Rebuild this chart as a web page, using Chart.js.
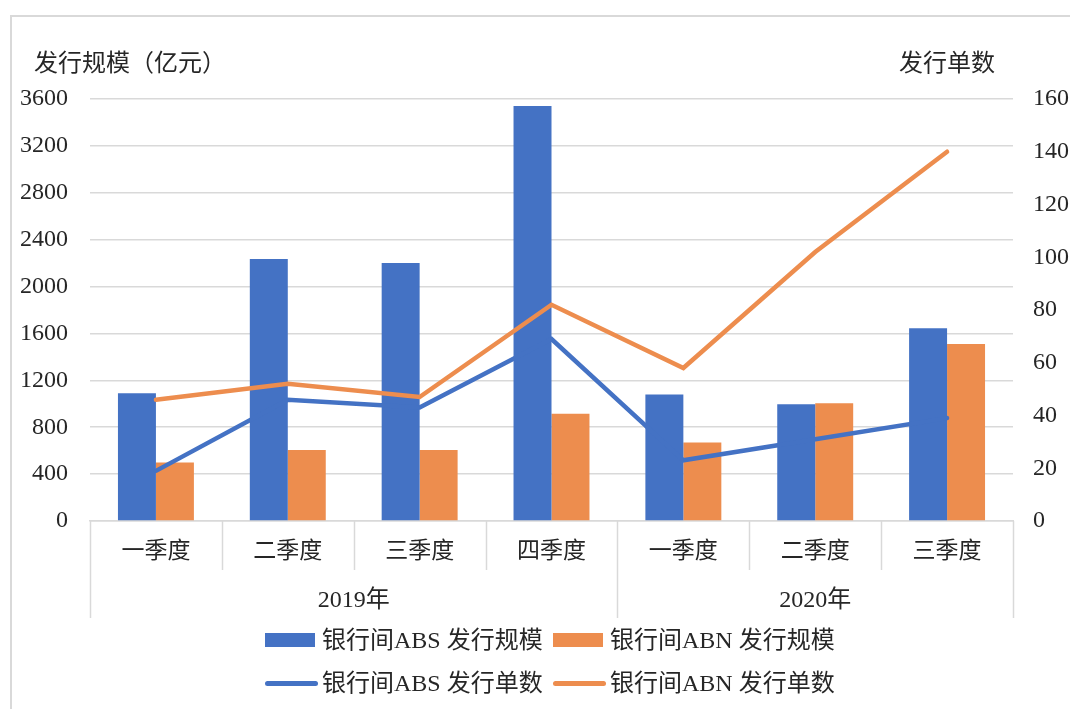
<!DOCTYPE html>
<html>
<head>
<meta charset="utf-8">
<script src="https://cdn.jsdelivr.net/npm/chart.js@4.4.0/dist/chart.umd.min.js"></script>
<style>
  html, body { margin: 0; padding: 0; background: #fff; overflow: hidden; }
  #wrap { position: relative; width: 1070px; height: 709px; }
  #frame { position: absolute; left: 10px; top: 15px; width: 1100px; height: 720px; border: 2px solid #d9d9d9; }
  #box { position: absolute; left: 0; top: 0; width: 1070px; height: 709px; }
  .t { position: absolute; font: 24px "Liberation Serif", "Noto Sans CJK SC"; color: #262626; white-space: nowrap; line-height: 28px; }
  .sw { position: absolute; }
</style>
</head>
<body>
<div id="wrap">
  <div id="frame"></div>
  <div id="box"><canvas id="myComboChart"></canvas></div>
  <div class="t" style="left:34px; top:49px;">发行规模（亿元）</div>
  <div class="t" style="left:899px; top:49px;">发行单数</div>
  <div id="legend"></div>
</div>
<script>
const quarters = ['一季度', '二季度', '三季度', '四季度', '一季度', '二季度', '三季度'];
const years = ['2019年', '2020年'];
const yearSpans = [4, 3];

const absAmount = [1090, 2235, 2200, 3540, 1080, 995, 1645];
const abnAmount = [500, 605, 606, 915, 670, 1005, 1510];
const absCount = [19, 46, 43, 69, 23, 31, 39];
const abnCount = [46, 52, 47, 82, 58, 102, 140];

const seriesNames = ['银行间ABS 发行规模', '银行间ABN 发行规模', '银行间ABS 发行单数', '银行间ABN 发行单数'];

const BLUE = '#4472c4';
const ORANGE = '#ed8d4e';
const GRID = '#d9d9d9';
const TXT = '#262626';

// separators + year row under the quarter labels
const groupAxis = {
  id: 'groupAxis',
  afterDraw(chart) {
    const { ctx, chartArea: a } = chart;
    const step = (a.right - a.left) / quarters.length;
    const edges = [0];
    yearSpans.forEach(n => edges.push(edges[edges.length - 1] + n));
    ctx.save();
    ctx.strokeStyle = GRID;
    ctx.lineWidth = 1.5;
    for (let i = 0; i <= quarters.length; i++) {
      const px = Math.round(a.left + i * step) + 0.5;
      const long = edges.includes(i);
      ctx.beginPath();
      ctx.moveTo(px, a.bottom);
      ctx.lineTo(px, a.bottom + (long ? 97 : 49));
      ctx.stroke();
    }
    ctx.font = '24px "Liberation Serif", "Noto Sans CJK SC"';
    ctx.fillStyle = TXT;
    ctx.textAlign = 'center';
    ctx.textBaseline = 'middle';
    years.forEach((y, j) => {
      const mid = a.left + (edges[j] + edges[j + 1]) / 2 * step;
      ctx.fillText(y, mid, a.bottom + 80);
    });
    ctx.restore();
  }
};

const data = {
  labels: quarters,
  datasets: [
    {
      type: 'line',
      label: seriesNames[2],
      data: absCount,
      yAxisID: 'y1',
      borderColor: BLUE,
      borderWidth: 4.5,
      borderCapStyle: 'round',
      pointRadius: 0,
      tension: 0,
      order: 0
    },
    {
      type: 'line',
      label: seriesNames[3],
      data: abnCount,
      yAxisID: 'y1',
      borderColor: ORANGE,
      borderWidth: 4.5,
      borderCapStyle: 'round',
      pointRadius: 0,
      tension: 0,
      order: 0
    },
    {
      type: 'bar',
      label: seriesNames[0],
      data: absAmount,
      yAxisID: 'y',
      backgroundColor: BLUE,
      categoryPercentage: 0.576,
      barPercentage: 1,
      order: 1
    },
    {
      type: 'bar',
      label: seriesNames[1],
      data: abnAmount,
      yAxisID: 'y',
      backgroundColor: ORANGE,
      categoryPercentage: 0.576,
      barPercentage: 1,
      order: 1
    }
  ]
};

const tickFont = { family: '"Liberation Serif", "Noto Sans CJK SC"', size: 24 };

const config = {
  type: 'bar',
  data: data,
  options: {
    responsive: true,
    maintainAspectRatio: false,
    animation: false,
    layout: { padding: { top: 99, bottom: 88, left: 0, right: 0 } },
    plugins: {
      legend: { display: false },
      title: { display: false },
      tooltip: { enabled: false }
    },
    scales: {
      x: {
        offset: true,
        grid: { display: false, drawTicks: false },
        border: { display: true, color: GRID, width: 1.5 },
        ticks: { font: { family: '"Noto Sans CJK SC"', size: 23 }, color: TXT, padding: 14, maxRotation: 0, autoSkip: false },
        afterFit: (scale) => { scale.height = 100; }
      },
      y: {
        position: 'left',
        min: 0,
        max: 3600,
        ticks: { stepSize: 400, font: tickFont, color: TXT, padding: 22, callback: (v) => String(v) },
        grid: { color: GRID, lineWidth: 1.5, drawTicks: false },
        border: { display: false },
        afterFit: (scale) => { scale.width = 90; }
      },
      y1: {
        position: 'right',
        min: 0,
        max: 160,
        ticks: { stepSize: 20, font: tickFont, color: TXT, padding: 20, callback: (v) => String(v) },
        grid: { display: false, drawTicks: false },
        border: { display: false },
        afterFit: (scale) => { scale.width = 57; }
      }
    }
  },
  plugins: [groupAxis]
};

// legend, two rows of two
const legendItems = [
  { name: seriesNames[0], color: BLUE, kind: 'bar', x: 265, y: 640 },
  { name: seriesNames[1], color: ORANGE, kind: 'bar', x: 553, y: 640 },
  { name: seriesNames[2], color: BLUE, kind: 'line', x: 265, y: 683 },
  { name: seriesNames[3], color: ORANGE, kind: 'line', x: 553, y: 683 }
];
const legendEl = document.getElementById('legend');
legendItems.forEach(it => {
  const sw = document.createElement('div');
  sw.className = 'sw';
  if (it.kind === 'bar') {
    sw.style.cssText = `left:${it.x}px;top:${it.y - 7}px;width:50px;height:14px;background:${it.color};`;
  } else {
    sw.style.cssText = `left:${it.x}px;top:${it.y - 2}px;width:53px;height:4.5px;border-radius:3px;background:${it.color};`;
  }
  legendEl.appendChild(sw);
  const t = document.createElement('div');
  t.className = 't';
  t.style.left = (it.x + 57) + 'px';
  t.style.top = (it.y - 14) + 'px';
  t.textContent = it.name;
  legendEl.appendChild(t);
});

const ctx = document.getElementById('myComboChart');
new Chart(ctx, config);
</script>
</body>
</html>
